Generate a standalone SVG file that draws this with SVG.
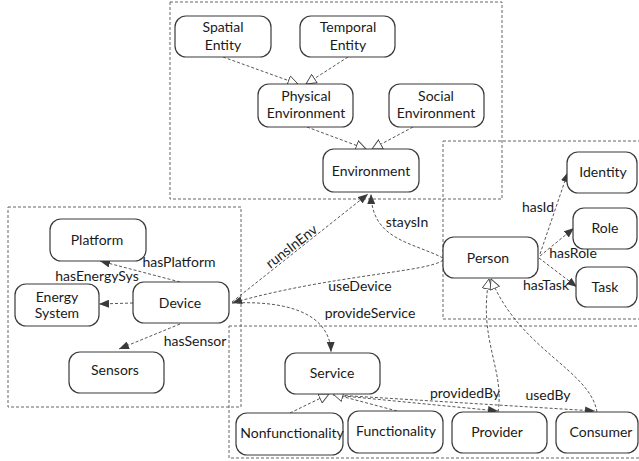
<svg xmlns="http://www.w3.org/2000/svg" width="639" height="461" viewBox="0 0 639 461">
<defs>
<style>
.cont{fill:none;stroke:#666;stroke-width:1;stroke-dasharray:3,2}
.node rect{fill:#fff;stroke:#3a3a3a;stroke-width:1.2}
text{font-family:Lato,"Open Sans","Liberation Sans",sans-serif;font-size:14px;fill:#1a1a1a}
.node text{text-anchor:middle}
.lbl{text-anchor:middle}
.c{fill:none;stroke:#444;stroke-width:0.9;stroke-dasharray:3,2}
.a{marker-end:url(#arr)}
.g{marker-end:url(#tri)}
</style>
<marker id="arr" viewBox="0 0 10 8" refX="10" refY="4" markerWidth="10" markerHeight="8" markerUnits="userSpaceOnUse" orient="auto">
<path d="M0,0 L10,4 L0,8 z" fill="#3a3a3a"/>
</marker>
<marker id="tri" viewBox="0 0 11 11" refX="10.5" refY="5.5" markerWidth="11" markerHeight="11" markerUnits="userSpaceOnUse" orient="auto">
<path d="M0.5,0.5 L10.5,5.5 L0.5,10.5 z" fill="#fff" stroke="#444" stroke-width="0.9"/>
</marker>
</defs>
<rect width="639" height="461" fill="#fff"/>
<g id="containers">
<rect class="cont" x="170" y="2" width="332" height="197"/>
<rect class="cont" x="443" y="141" width="200" height="178"/>
<rect class="cont" x="8" y="207" width="233" height="200"/>
<rect class="cont" x="229" y="326" width="414" height="132"/>
</g>
<g id="connectors">
<path class="c g" d="M223,57 L298,84"/>
<path class="c g" d="M348,57 L306,84"/>
<path class="c g" d="M307,127 L366,149"/>
<path class="c g" d="M413,127 L372,149"/>
<path class="c a" d="M232,302 L368,194"/>
<path class="c a" d="M443,258 C412,242 372,240 371,194"/>
<path class="c a" d="M443,260 C430,272 330,275 232,303"/>
<path class="c a" d="M232,303 C300,300 330,320 331,352"/>
<path class="c a" d="M540,254 L568,172"/>
<path class="c a" d="M540,256 L574,228"/>
<path class="c a" d="M539,258 L577,287"/>
<path class="c a" d="M180,282 L100,261"/>
<path class="c a" d="M133,303 L99,304"/>
<path class="c a" d="M180,324 L119,349"/>
<path class="c a" d="M333,395 L498,411"/>
<path class="c a" d="M335,395 L595,411"/>
<path class="c g" d="M290,413 L329,394"/>
<path class="c g" d="M397,411 L333,394"/>
<path class="c g" d="M498,412 C505,370 478,340 489,279"/>
<path class="c g" d="M597,412 C590,370 520,350 491,279"/>
</g>
<g id="labels">
<text class="lbl" x="292" y="251" transform="rotate(-38 292 247)">runsInEnv</text>
<text class="lbl" x="407" y="227">staysIn</text>
<text class="lbl" x="360" y="291">useDevice</text>
<text class="lbl" x="370" y="318">provideService</text>
<text class="lbl" x="538" y="212">hasId</text>
<text class="lbl" x="573" y="258">hasRole</text>
<text class="lbl" x="546" y="290">hasTask</text>
<text class="lbl" x="179" y="267">hasPlatform</text>
<text class="lbl" x="97" y="281">hasEnergySys</text>
<text class="lbl" x="195" y="346">hasSensor</text>
<text class="lbl" x="465" y="398">providedBy</text>
<text class="lbl" x="548" y="400">usedBy</text>
</g>
<g id="spatial" class="node"><rect x="175" y="16" width="96" height="41" rx="11"/><text x="223" y="32">Spatial</text><text x="223" y="50">Entity</text></g>
<g id="temporal" class="node"><rect x="300" y="16" width="95" height="41" rx="11"/><text x="348" y="32">Temporal</text><text x="348" y="50">Entity</text></g>
<g id="physical" class="node"><rect x="258" y="84" width="95" height="43" rx="11"/><text x="306" y="101">Physical</text><text x="306" y="118">Environment</text></g>
<g id="social" class="node"><rect x="389" y="84" width="95" height="43" rx="11"/><text x="436" y="101">Social</text><text x="436" y="118">Environment</text></g>
<g id="environment" class="node"><rect x="323" y="149" width="96" height="43" rx="11"/><text x="371" y="176">Environment</text></g>
<g id="identity" class="node"><rect x="567" y="152" width="70" height="41" rx="11"/><text x="603" y="177">Identity</text></g>
<g id="role" class="node"><rect x="573" y="208" width="64" height="41" rx="11"/><text x="605" y="233">Role</text></g>
<g id="task" class="node"><rect x="576" y="267" width="61" height="40" rx="11"/><text x="605" y="292">Task</text></g>
<g id="person" class="node"><rect x="443" y="237" width="95" height="41" rx="11"/><text x="488" y="263">Person</text></g>
<g id="platform" class="node"><rect x="50" y="219" width="96" height="42" rx="11"/><text x="97" y="245">Platform</text></g>
<g id="energy" class="node"><rect x="15" y="284" width="84" height="42" rx="11"/><text x="57" y="302">Energy</text><text x="57" y="318">System</text></g>
<g id="device" class="node"><rect x="133" y="282" width="96" height="41" rx="11"/><text x="180" y="308">Device</text></g>
<g id="sensors" class="node"><rect x="69" y="352" width="95" height="41" rx="11"/><text x="115" y="375">Sensors</text></g>
<g id="service" class="node"><rect x="285" y="353" width="95" height="41" rx="11"/><text x="332" y="378">Service</text></g>
<g id="nonfunctionality" class="node"><rect x="236" y="413" width="107" height="42" rx="11"/><text x="292" y="438">Nonfunctionality</text></g>
<g id="functionality" class="node"><rect x="348" y="411" width="95" height="42" rx="11"/><text x="396" y="436">Functionality</text></g>
<g id="provider" class="node"><rect x="452" y="412" width="95" height="41" rx="11"/><text x="497" y="437">Provider</text></g>
<g id="consumer" class="node"><rect x="556" y="412" width="82" height="41" rx="11"/><text x="601" y="437">Consumer</text></g>
</svg>
